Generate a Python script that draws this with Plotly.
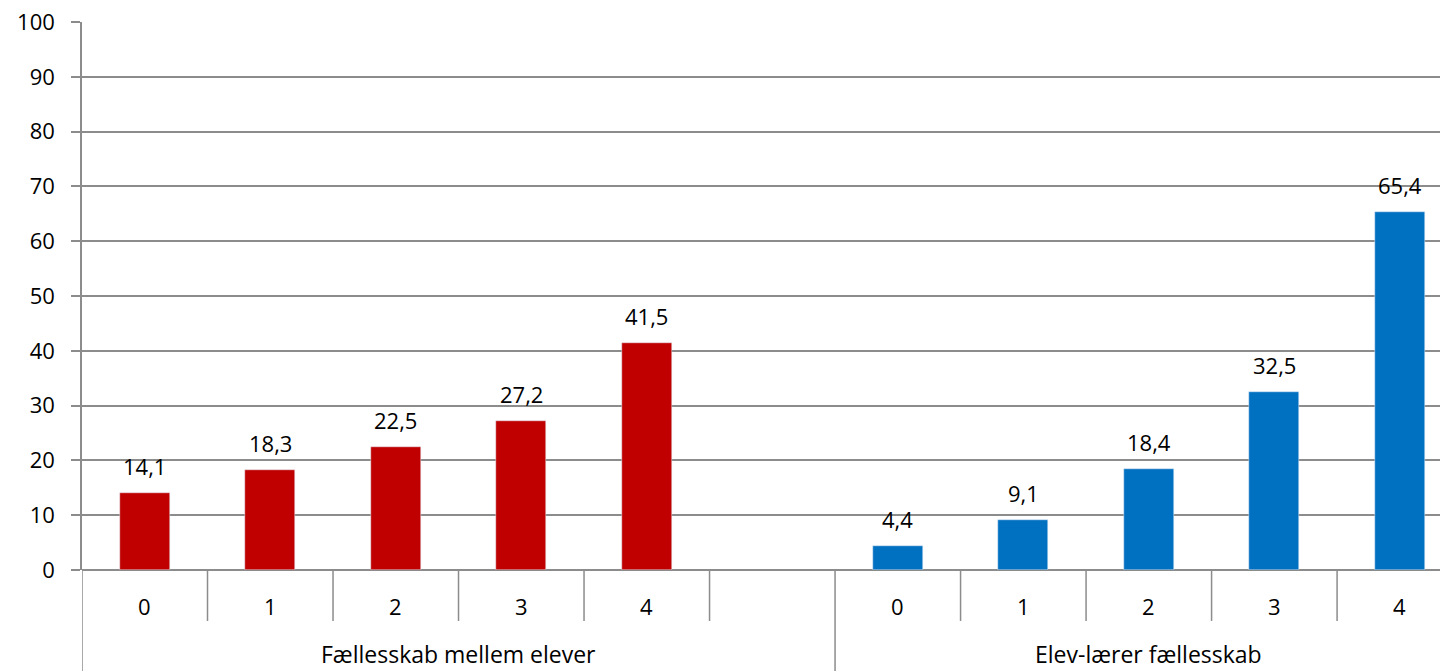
import plotly.graph_objects as go

categories = ["0", "1", "2", "3", "4"]
groups = ["Fællesskab mellem elever", "Elev-lærer fællesskab"]
values_elever = [14.1, 18.3, 22.5, 27.2, 41.5]
values_laerer = [4.4, 9.1, 18.4, 32.5, 65.4]
y_ticks = list(range(0, 101, 10))

RED = "#C00000"
BLUE = "#0070C0"
GRID = "#8C8C8C"
FONT = "Open Sans"
FS = 22

# slot positions: group 1 at 0..4, empty slot at 5, group 2 at 6..10
x1 = list(range(len(categories)))
x2 = [i + len(categories) + 1 for i in range(len(categories))]

fig = go.Figure()
fig.add_trace(go.Bar(x=x1, y=values_elever, marker_color=RED, width=0.4,
                     name=groups[0], showlegend=False))
fig.add_trace(go.Bar(x=x2, y=values_laerer, marker_color=BLUE, width=0.4,
                     name=groups[1], showlegend=False))

annotations = []
for xs, vals in ((x1, values_elever), (x2, values_laerer)):
    for x, v in zip(xs, vals):
        annotations.append(dict(x=x, y=v, xref="x", yref="y",
                                text=f"{v:.1f}".replace(".", ","),
                                showarrow=False, yanchor="middle", yshift=27,
                                font=dict(family=FONT, size=FS, color="#000")))
    for x, c in zip(xs, categories):
        annotations.append(dict(x=x, y=-0.0657, xref="x", yref="paper",
                                text=c, showarrow=False, yanchor="middle",
                                font=dict(family=FONT, size=FS, color="#000")))

group_centers = [(-0.5 + 5.5) / 2, (5.5 + 10.5) / 2]
for gx, g in zip(group_centers, groups):
    annotations.append(dict(x=gx, y=-0.1535, xref="x", yref="paper",
                            text=g, showarrow=False, yanchor="middle",
                            borderpad=0,
                            font=dict(family=FONT, size=23, color="#000")))

shapes = []
for s in [0.5, 1.5, 2.5, 3.5, 4.5, 6.5, 7.5, 8.5, 9.5]:
    shapes.append(dict(type="line", xref="x", yref="paper", x0=s, x1=s,
                       y0=0, y1=-0.093, line=dict(color=GRID, width=1.5)))
for s in [-0.5, 5.5, 10.5]:
    shapes.append(dict(type="line", xref="x", yref="paper", x0=s, x1=s,
                       y0=0, y1=-0.2, line=dict(color=GRID, width=1.5)))

fig.update_layout(
    width=1440, height=671,
    margin=dict(l=82, r=0, t=22, b=101),
    plot_bgcolor="white", paper_bgcolor="white",
    bargap=0,
    annotations=annotations,
    shapes=shapes,
    font=dict(family=FONT, size=FS, color="#000"),
    xaxis=dict(range=[-0.5, 10.32], showticklabels=False, showgrid=False,
               zeroline=False, showline=False, ticks=""),
    yaxis=dict(range=[0, 100], tickvals=y_ticks, showgrid=True,
               gridcolor=GRID, gridwidth=1.5, zeroline=True,
               zerolinecolor=GRID, zerolinewidth=1.5,
               showline=True, linecolor=GRID, linewidth=1.5,
               ticks="outside", ticklen=9, tickcolor=GRID, tickwidth=1.5,
               ticklabelstandoff=12,
               tickfont=dict(family=FONT, size=FS, color="#000")),
)

fig.write_html("out.html", config={"displayModeBar": False},
               post_script="document.body.style.margin='0';document.body.style.padding='0';")
